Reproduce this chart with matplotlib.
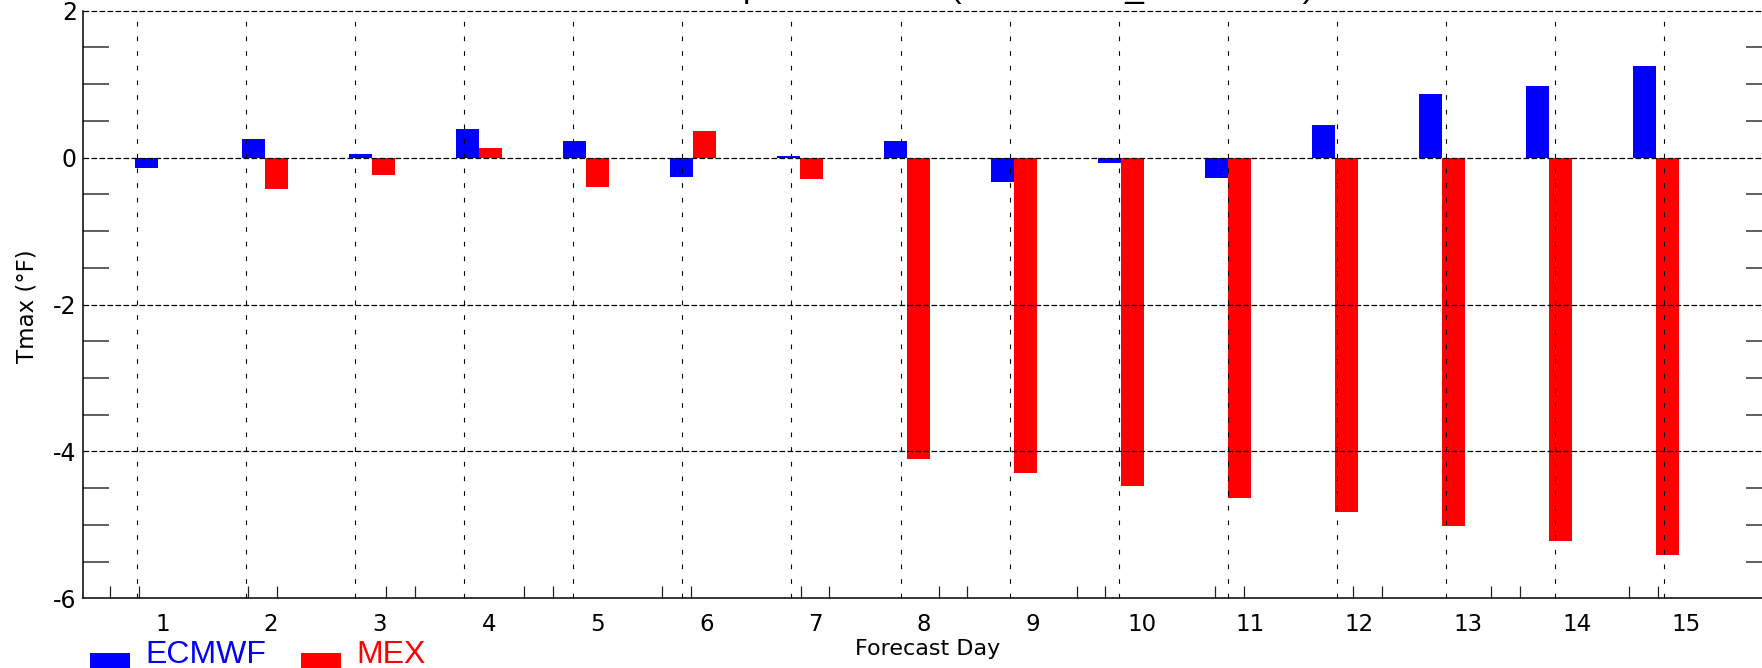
import numpy as np
import matplotlib
matplotlib.use("Agg")
import matplotlib.pyplot as plt
from matplotlib.patches import Rectangle

plt.rcParams['font.family'] = ['DejaVu Sans']

# forecast days and mean Tmax bias per model (deg F)
days = np.arange(1, 16)
day_labels = [str(d) for d in days]
ecmwf = [-0.14, 0.25, 0.05, 0.39, 0.22, -0.27, 0.02, 0.22, -0.33, -0.07,
         -0.28, 0.44, 0.86, 0.97, 1.25]
mex = [-0.01, -0.43, -0.24, 0.13, -0.40, 0.36, -0.29, -4.10, -4.30, -4.47,
       -4.64, -4.82, -5.01, -5.22, -5.41]
series_names = ["ECMWF", "MEX"]
series_colors = ["#0000ff", "#ff0000"]
y_labels = [-6, -4, -2, 0, 2]

W, H = 1762, 668
fig = plt.figure(figsize=(W / 100, H / 100), dpi=100)

# plot box in pixels (IDL style, right edge runs off the page)
left, right, top, bottom = 83, 1772, 10.7, 598.3
ax = fig.add_axes([left / W, 1 - bottom / H, (right - left) / W, (bottom - top) / H])

# x data unit = 107 px, day 1 bar pair centred at px 157.7
px2x = lambda p: 1 + (p - 157.7) / 107.0
ax.set_xlim(px2x(left), px2x(right))
ax.set_ylim(-6, 2)

bw = 23 / 107.0
ax.bar(days - bw, ecmwf, width=bw, align="edge", color=series_colors[0], lw=0, zorder=2)
ax.bar(days, mex, width=bw, align="edge", color=series_colors[1], lw=0, zorder=2)

# grid: dotted verticals, dashed horizontals
grid_x = [px2x(137.3 + 109.03 * k) for k in range(15)]
for g in grid_x:
    ax.axvline(g, color="k", lw=0.8, ls=(0, (4.2, 9)), zorder=3)
for yv in [2, 0, -2, -4]:
    ax.axhline(yv, color="k", lw=0.9, ls=(0, (4.5, 1.9)), zorder=3, clip_on=False)

for s in ["top", "right"]:
    ax.spines[s].set_visible(False)
for s in ["left", "bottom"]:
    ax.spines[s].set_linewidth(1.1)
    ax.spines[s].set_zorder(4)

# y ticks: labels on even values, short inward ticks every 0.5
ax.set_yticks(y_labels)
ax.set_yticklabels([str(v) for v in y_labels])
ax.set_yticks([v for v in np.arange(-5.5, 2.0, 0.5) if v % 2 != 0], minor=True)
ax.tick_params(axis="y", which="major", length=0, labelsize=17, pad=4.5)
ax.tick_params(axis="y", which="minor", direction="in", length=18.5, width=1.1,
               color="#333333", left=True, right=True)

# x ticks: labels per day, small paired ticks along the bottom
label_x = [px2x(162.3 + 108.82 * k) for k in range(15)]
ax.set_xticks(label_x)
ax.set_xticklabels(day_labels)
minor_px = [110 + 138.1 * j + o for j in range(12) for o in (0, 28.7)]
ax.set_xticks([px2x(p) for p in minor_px], minor=True)
ax.tick_params(axis="x", which="major", length=0, labelsize=16.5, pad=10.3)
ax.tick_params(axis="x", which="minor", direction="in", length=8.4, width=0.9,
               color="#222222", top=False)

fig.text(27 / W, 1 - 306 / H, "Tmax (\u00b0F)", rotation=90, ha="center", va="center",
         fontsize=16.5)
fig.text(928 / W, 1 - 655 / H, "Forecast Day", ha="center", va="baseline", fontsize=16)

# title sits above the page, only its descenders show
fig.text(680 / W, 1 + 2.7 / H, "Temperature Bias (ALL SITES_AVERAGE)", ha="left",
         va="baseline", fontsize=24, family="Liberation Sans")

# legend drawn by hand at the bottom left
for (px, tx), name, col in zip([(90, 145), (301, 356)], series_names, series_colors):
    fig.add_artist(Rectangle((px / W, 1 - 675 / H), 40 / W, 22 / H,
                             transform=fig.transFigure, color=col, lw=0))
    fig.text(tx / W, 1 - 663 / H, name, color=col, ha="left", va="baseline",
             fontsize=23, family="Liberation Sans")

fig.savefig("out.png", dpi=100)
